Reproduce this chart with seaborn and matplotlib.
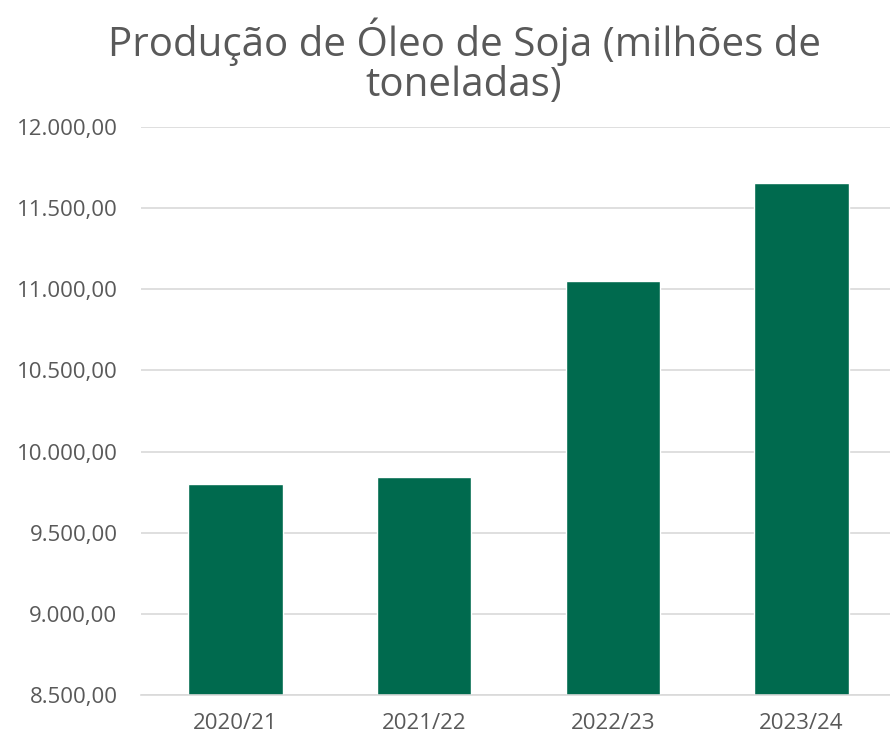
import matplotlib
matplotlib.use("Agg")
import matplotlib.pyplot as plt
import seaborn as sns
import pandas as pd
from matplotlib.ticker import FuncFormatter

categories = ["2020/21", "2021/22", "2022/23", "2023/24"]
values = [9800, 9845, 11050, 11658]
yticks = [8500, 9000, 9500, 10000, 10500, 11000, 11500, 12000]
title = "Produção de Óleo de Soja (milhões de\ntoneladas)"

sns.set_theme(style="white")
plt.rcParams['font.family'] = ['Open Sans', 'DejaVu Sans']

df = pd.DataFrame({"safra": categories, "valor": values})

fig = plt.figure(figsize=(8.9, 7.35), dpi=100)
ax = fig.add_axes([141/890, 40/735, 755/890, 568/735])
sns.barplot(data=df, x="safra", y="valor", color="#006A4E", width=0.5,
            saturation=1, ax=ax)
ax.set_ylim(8500, 12000)
ax.set_yticks(yticks)
ax.yaxis.set_major_formatter(FuncFormatter(
    lambda v, p: f"{v:,.2f}".replace(",", "X").replace(".", ",").replace("X", ".")))
ax.set_xlim(-0.5, 3.5)
ax.grid(axis="y", color="#D9D9D9", linewidth=1.2)
ax.set_axisbelow(True)
for s in ["top", "right", "left"]:
    ax.spines[s].set_visible(False)
ax.spines["bottom"].set_color("#D9D9D9")
ax.spines["bottom"].set_linewidth(1.2)
ax.tick_params(axis="both", length=0, labelsize=16, colors="#595959")
ax.tick_params(axis="y", pad=17)
ax.tick_params(axis="x", pad=13)
ax.set_xlabel("")
ax.set_ylabel("")
fig.text(464/890, 1 - 62/735, title, ha="center", va="center",
         fontsize=29, color="#595959", linespacing=1.0)
fig.savefig("out.png", dpi=100)
